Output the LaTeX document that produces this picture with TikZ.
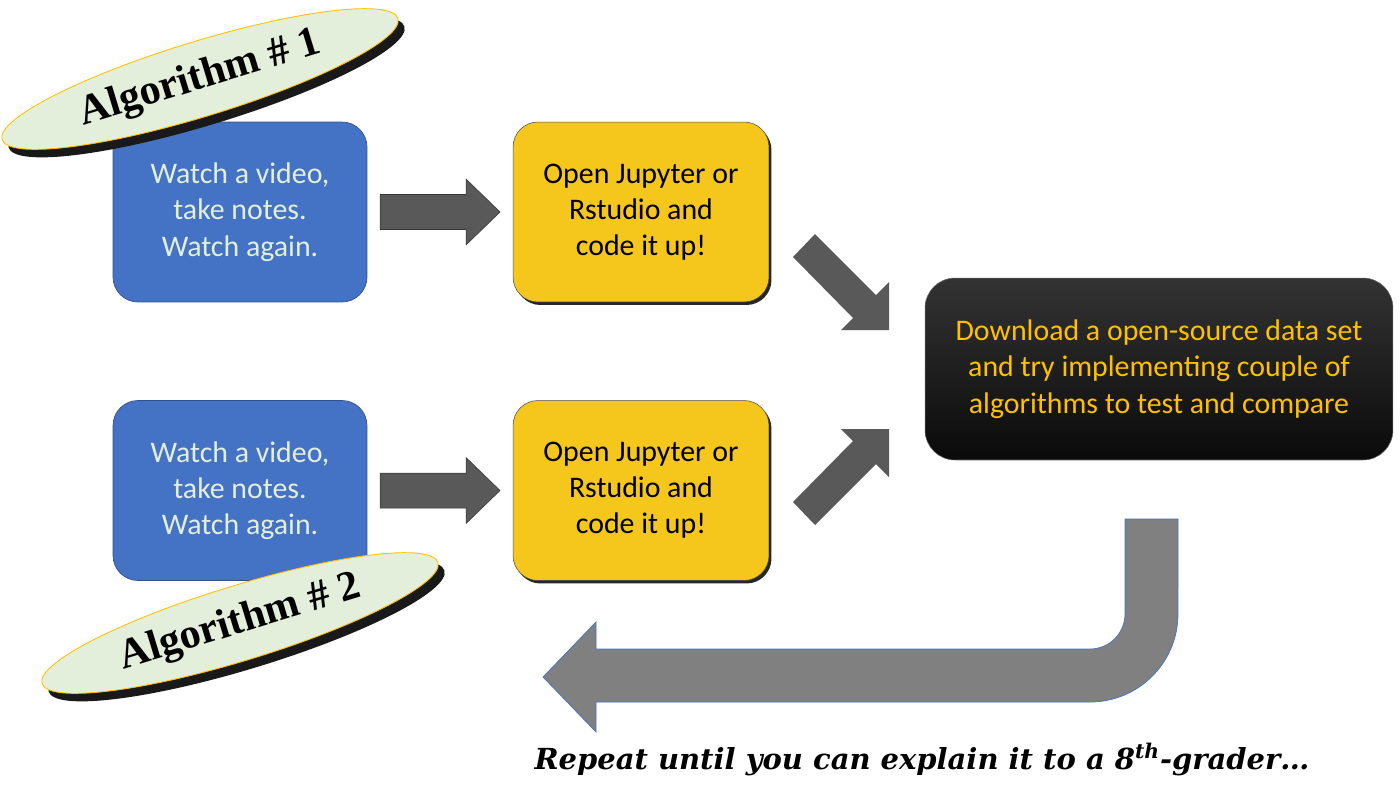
\documentclass[tikz,border=0pt]{standalone}
\usepackage{fontspec}
\newfontfamily\calibri{Carlito}
\newfontfamily\slab{DejaVu Serif}
\newfontfamily\ovalfont{Liberation Serif}
\usetikzlibrary{shapes.geometric}
\usetikzlibrary{shadows}
\usetikzlibrary{calc}
\definecolor{boxblue}{HTML}{4472C4}
\definecolor{boxblueline}{HTML}{2F528F}
\definecolor{boxyellow}{HTML}{F5C61C}
\definecolor{paletext}{HTML}{E2EFDA}
\definecolor{gold}{HTML}{FFC000}
\definecolor{arrowgray}{HTML}{595959}
\definecolor{loopgray}{HTML}{808080}
\definecolor{ovalgreen}{HTML}{E4EFDB}
\tikzset{
    box/.style={rounded corners=0.5cm, align=center, inner sep=0pt,
        font=\calibri\fontsize{17}{20.6}\selectfont},
    watchbox/.style={box, fill=boxblue, draw=boxblueline, line width=0.4pt,
        text=paletext, minimum width=5.08cm, minimum height=3.6cm},
    codebox/.style={box, fill=boxyellow, draw=black!70, line width=0.3pt,
        text=black, minimum width=5.12cm, minimum height=3.6cm,
        drop shadow={shadow xshift=0.05cm, shadow yshift=-0.06cm, fill=black!85, opacity=1}},
    databox/.style={box, rounded corners=0.6cm, draw=black!60, line width=0.3pt,
        top color=black!80, middle color=black!96, bottom color=black!96,
        text=gold, minimum width=9.36cm, minimum height=3.64cm},
    algo/.style={ellipse, fill=ovalgreen, draw=gold, line width=0.5pt,
        minimum width=8.28cm, minimum height=1.5cm, inner sep=0pt, rotate=17,
        font=\ovalfont\fontsize{24}{28}\selectfont\bfseries,
        drop shadow={shadow xshift=0.13cm, shadow yshift=-0.16cm, fill=black!90, opacity=1}},
    blockarrow/.pic={
        \fill[arrowgray, draw=black!80, line width=0.3pt]
            (-60,-17.5) -- (26,-17.5) -- (26,-33) -- (60,0) -- (26,33)
            -- (26,17.5) -- (-60,17.5) -- cycle;
    }
}
\begin{document}
\begin{tikzpicture}[x=0.02cm,y=-0.02cm]
    \useasboundingbox (0,0) rectangle (1400,796);

    % the two rows
    \node[watchbox] (watch1) at (240,212) {Watch a video,\\take notes.\\Watch again.};
    \node[codebox] (code1) at (641,212) {Open Jupyter or\\Rstudio and\\code it up!};
    \node[watchbox] (watch2) at (240,490.5) {Watch a video,\\take notes.\\Watch again.};
    \node[codebox] (code2) at (641,490.5) {Open Jupyter or\\Rstudio and\\code it up!};
    \node[databox] (dataset) at (1159,369) {Download a open-source data set\\and try implementing couple of\\algorithms to test and compare};

    \pic at ($(watch1.east)!0.5!(code1.west)$) {blockarrow};
    \pic at ($(watch2.east)!0.5!(code2.west)$) {blockarrow};

    % diagonal arrows, heads cut off
    \fill[arrowgray] (815,234) -- (876,295) -- (889,282) -- (889,330)
        -- (841,330) -- (853,318) -- (793,257) -- cycle;
    \fill[arrowgray] (815,525) -- (876,464) -- (889,477) -- (889,429)
        -- (841,429) -- (853,441) -- (793,502) -- cycle;

    % loop back
    \path[fill=loopgray, draw=boxblue, line width=0.4pt] (1125,519) -- (1125,614)
        arc[start angle=0, end angle=-90, radius=0.7cm] -- (596,649) -- (596,622)
        -- (543,677) -- (596,732) -- (596,702) -- (1090,702)
        arc[start angle=-90, end angle=0, radius=1.76cm] -- (1178,519) -- cycle;

    \node[algo] (algo1) at (200,79) {Algorithm \# 1};
    \node[algo] (algo2) at (240,623) {Algorithm \# 2};

    \node[anchor=base, font=\slab\fontsize{16.5}{19}\selectfont\bfseries\itshape] (repeat)
        at (922,769) {Repeat until you can explain it to a 8\textsuperscript{th}-grader\dots};
\end{tikzpicture}
\end{document}
